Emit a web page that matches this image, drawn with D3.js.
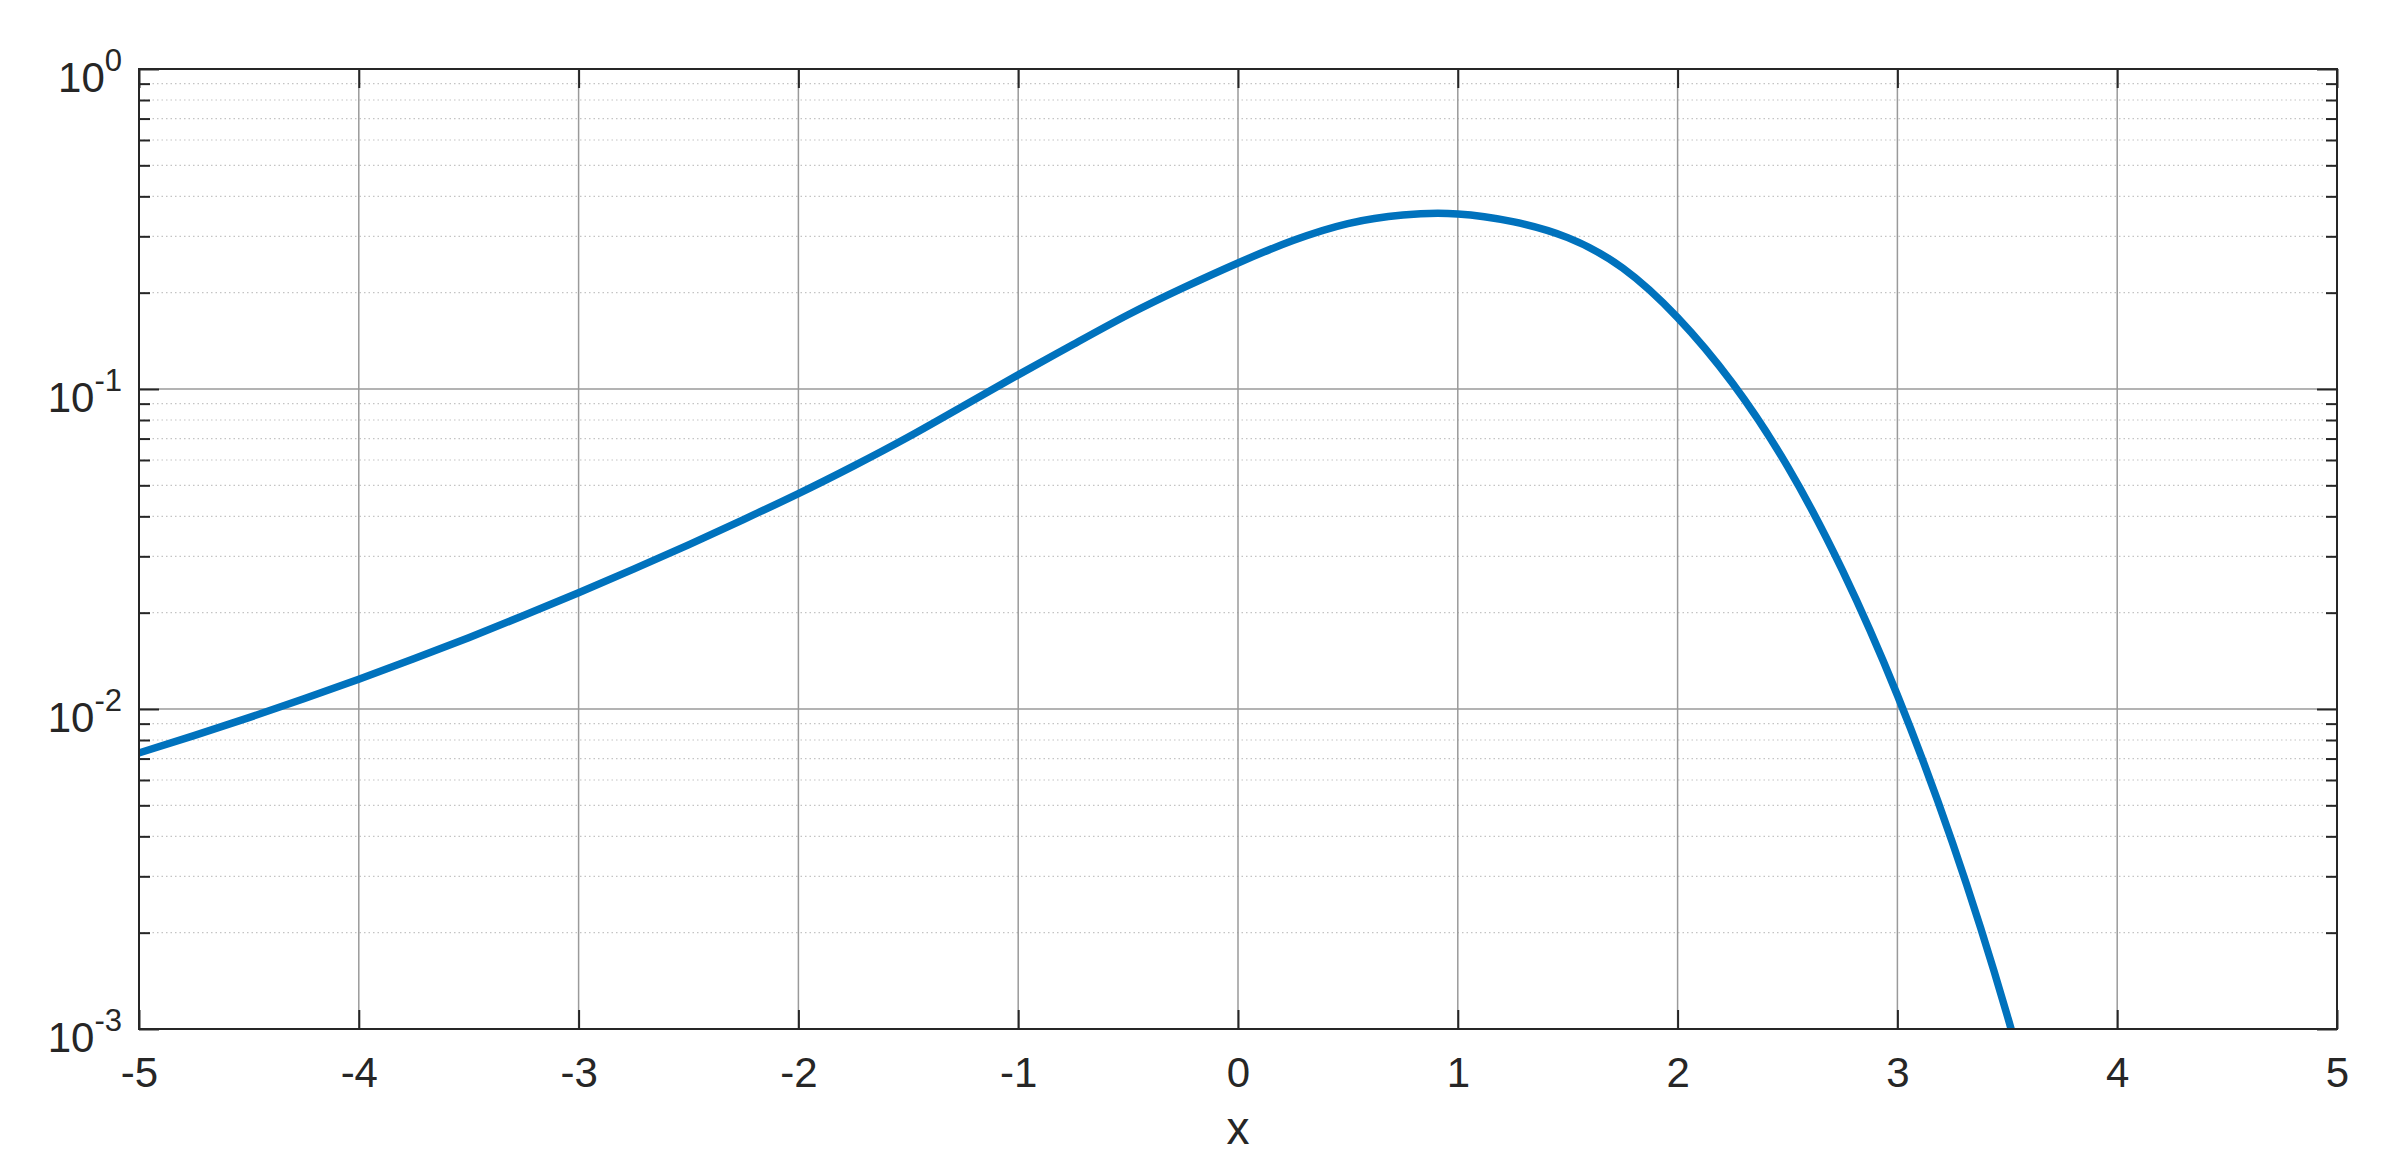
<!DOCTYPE html>
<html>
<head>
<meta charset="utf-8">
<script src="https://cdnjs.cloudflare.com/ajax/libs/d3/7.8.5/d3.min.js"></script>
<style>
  body { margin: 0; background: #fff; }
  svg text { font-family: "Liberation Sans", Arial, Helvetica, sans-serif; fill: #262626; }
</style>
</head>
<body>
<svg id="chart" width="2388" height="1164"></svg>
<script>
// curve, every 0.25 in x
var xVals = [-5, -4.75, -4.5, -4.25, -4, -3.75, -3.5, -3.25, -3, -2.75, -2.5, -2.25, -2,
             -1.75, -1.5, -1.25, -1, -0.75, -0.5, -0.25, 0, 0.25, 0.5, 0.75, 1,
             1.25, 1.5, 1.75, 2, 2.25, 2.5, 2.75, 3, 3.25, 3.5, 3.75];
var yVals = [0.00729, 0.00826, 0.00940, 0.01076, 0.01239, 0.01435, 0.01671, 0.01959, 0.02307, 0.02735, 0.03258, 0.03908, 0.04710,
             0.05741, 0.07079, 0.08851, 0.1107, 0.1377, 0.1706, 0.2070, 0.2477, 0.2911, 0.3289, 0.3499, 0.3524,
             0.3334, 0.2972, 0.2388, 0.1671, 0.1042, 0.0573, 0.0271, 0.01104, 0.00383, 0.00110, 0.00026];

var xTicks = [-5, -4, -3, -2, -1, 0, 1, 2, 3, 4, 5];
var yTicks = [1e-3, 1e-2, 1e-1, 1];
var yExponents = ["-3", "-2", "-1", "0"];
var xLabel = "x";

var margin = {left: 139, top: 69, right: 2388 - 2337, bottom: 1164 - 1029};
var W = 2388 - margin.left - margin.right,
    H = 1164 - margin.top - margin.bottom;

var svg = d3.select("#chart");
var g = svg.append("g").attr("transform", "translate(" + margin.left + "," + margin.top + ")");

var x = d3.scaleLinear().domain([-5, 5]).range([0, W]);
var y = d3.scaleLog().domain([1e-3, 1]).range([H, 0]);

// minor values 2..9 per decade
var minorY = [];
for (var d = -3; d < 0; d++) {
    for (var k = 2; k <= 9; k++) minorY.push(k * Math.pow(10, d));
}

g.append("defs").append("clipPath").attr("id", "clip")
    .append("rect").attr("width", W).attr("height", H);

// minor grid (dotted)
g.selectAll("line.minor").data(minorY).enter().append("line")
    .attr("class", "minor")
    .attr("x1", 0).attr("x2", W)
    .attr("y1", function(v) { return y(v); })
    .attr("y2", function(v) { return y(v); })
    .attr("stroke", "#c4c4c4").attr("stroke-width", 1.2)
    .attr("stroke-dasharray", "1.5,3");

// major grid
g.selectAll("line.gx").data(xTicks.slice(1, -1)).enter().append("line")
    .attr("class", "gx")
    .attr("x1", function(v) { return x(v); }).attr("x2", function(v) { return x(v); })
    .attr("y1", 0).attr("y2", H)
    .attr("stroke", "#9a9a9a").attr("stroke-width", 1.5);
g.selectAll("line.gy").data(yTicks.slice(1, -1)).enter().append("line")
    .attr("class", "gy")
    .attr("x1", 0).attr("x2", W)
    .attr("y1", function(v) { return y(v); }).attr("y2", function(v) { return y(v); })
    .attr("stroke", "#9a9a9a").attr("stroke-width", 1.5);

// the curve
var line = d3.line()
    .x(function(d, i) { return x(xVals[i]); })
    .y(function(d, i) { return y(yVals[i]); })
    .curve(d3.curveNatural);

g.append("path")
    .datum(xVals)
    .attr("clip-path", "url(#clip)")
    .attr("d", line)
    .attr("fill", "none")
    .attr("stroke", "#0072BD")
    .attr("stroke-width", 7.5)
    .attr("stroke-linejoin", "round");

function styleAxis(sel) {
    sel.select(".domain").remove();
    sel.selectAll(".tick line").attr("stroke", "#262626").attr("stroke-width", 2);
}

// x axes bottom/top
var xb = g.append("g").attr("transform", "translate(0," + H + ")")
    .call(d3.axisBottom(x).tickValues(xTicks).tickSizeInner(-19).tickSizeOuter(0).tickPadding(28)
          .tickFormat(function(v) { return v < 0 ? "-" + Math.abs(v) : String(v); }));
styleAxis(xb);
xb.selectAll("text").attr("font-size", 42).style("fill", "#262626");

var xt = g.append("g")
    .call(d3.axisTop(x).tickValues(xTicks).tickSizeInner(-19).tickSizeOuter(0).tickFormat(""));
styleAxis(xt);

// y axes left/right
var yl = g.append("g")
    .call(d3.axisLeft(y).tickValues(yTicks).tickSizeInner(-20).tickSizeOuter(0).tickFormat(""));
styleAxis(yl);
var yr = g.append("g").attr("transform", "translate(" + W + ",0)")
    .call(d3.axisRight(y).tickValues(yTicks).tickSizeInner(-20).tickSizeOuter(0).tickFormat(""));
styleAxis(yr);
var ylm = g.append("g")
    .call(d3.axisLeft(y).tickValues(minorY).tickSizeInner(-11).tickSizeOuter(0).tickFormat(""));
styleAxis(ylm);
var yrm = g.append("g").attr("transform", "translate(" + W + ",0)")
    .call(d3.axisRight(y).tickValues(minorY).tickSizeInner(-11).tickSizeOuter(0).tickFormat(""));
styleAxis(yrm);

// y tick labels as 10^n
var yLab = g.selectAll("text.ylab").data(yTicks).enter().append("text")
    .attr("class", "ylab")
    .attr("x", -17)
    .attr("y", function(v) { return y(v) + 23; })
    .attr("text-anchor", "end")
    .attr("font-size", 42);
yLab.append("tspan").text("10");
yLab.append("tspan").attr("dy", -21).attr("font-size", 31)
    .text(function(v, i) { return yExponents[i]; });

// box
g.append("rect").attr("width", W).attr("height", H)
    .attr("fill", "none").attr("stroke", "#262626").attr("stroke-width", 2);

// axis label
svg.append("text")
    .attr("x", margin.left + W / 2)
    .attr("y", 1144)
    .attr("text-anchor", "middle")
    .attr("font-size", 46)
    .text(xLabel);
</script>
</body>
</html>
